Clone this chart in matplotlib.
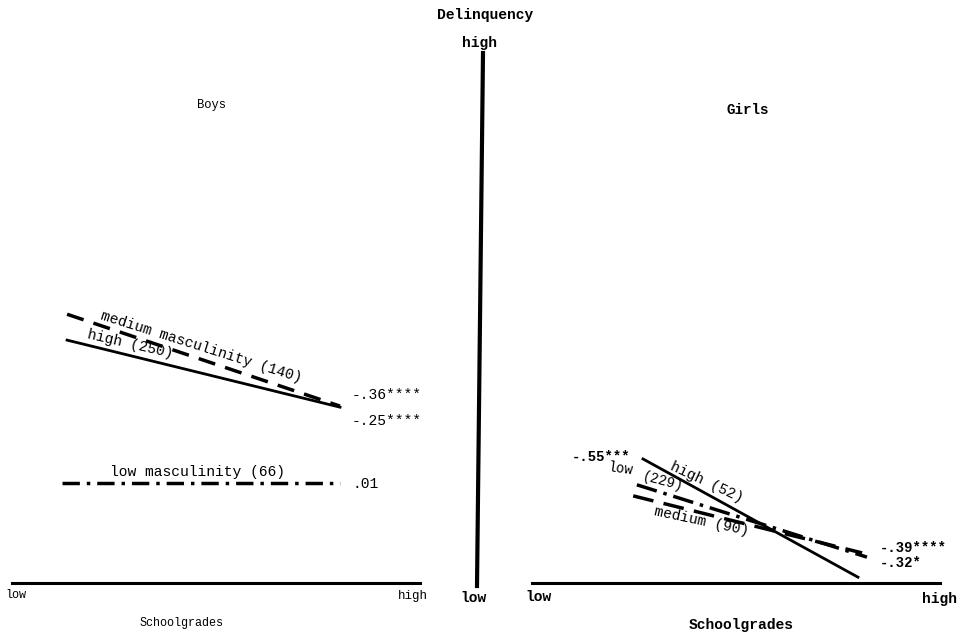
import matplotlib.pyplot as plt
from matplotlib.lines import Line2D

# schoolgrades (0 = low, 1 = high) and delinquency (0 = low, 1 = high)
boys_grades = [0.135, 0.804]
boys_medium = [0.509, 0.335]
boys_high = [0.460, 0.333]
boys_low_grades = [0.123, 0.804]
boys_low = [0.189, 0.189]

girls_high_grades = [0.272, 0.799]
girls_high = [0.235, 0.011]
girls_low_grades = [0.257, 0.821]
girls_low = [0.186, 0.049]
girls_medium_grades = [0.248, 0.809]
girls_medium = [0.165, 0.057]

boys_corr = ["-.36****", "-.25****", ".01"]
girls_corr = ["-.55***", "-.39****", "-.32*"]

W, H = 962, 635
mono = "Liberation Mono"


def fx(px):
    return px / W


def fy(py):
    return 1 - py / H


def label(px, py, s, size=10.5, rot=0, ha="center", weight="normal"):
    fig.text(fx(px), fy(py), s, fontsize=size, rotation=rot, ha=ha,
             va="center", family=mono, weight=weight,
             rotation_mode="anchor")


fig = plt.figure(figsize=(W / 100, H / 100), dpi=100)

ax_b = fig.add_axes([fx(12), fy(583), 408 / W, 528 / H])
ax_g = fig.add_axes([fx(532), fy(583), 408 / W, 528 / H])

for ax in (ax_b, ax_g):
    ax.set_xlim(0, 1)
    ax.set_ylim(0, 1)
    ax.set_xticks([])
    ax.set_yticks([])
    for side in ("left", "right", "top"):
        ax.spines[side].set_visible(False)
    ax.spines["bottom"].set_linewidth(2.2)
    ax.patch.set_alpha(0)

# Boys
ax_b.plot(boys_grades, boys_medium, color="black", lw=2.5,
          dashes=(5, 3), solid_capstyle="butt")
ax_b.plot(boys_grades, boys_high, color="black", lw=2)
ax_b.plot(boys_low_grades, boys_low, color="black", lw=2.5,
          dashes=(5, 2, 1, 2))

# Girls
ax_g.plot(girls_high_grades, girls_high, color="black", lw=2)
ax_g.plot(girls_low_grades, girls_low, color="black", lw=2.5,
          dashes=(6, 2, 1, 2))
ax_g.plot(girls_medium_grades, girls_medium, color="black", lw=2.5,
          dashes=(6, 3))

# delinquency axis
fig.add_artist(Line2D([fx(483), fx(477)], [fy(53), fy(586)],
                      transform=fig.transFigure, color="black", lw=3))

# titles and axis labels
label(485, 15, "Delinquency", size=10.5, weight="bold")
label(480, 43, "high", size=10.5, weight="bold")
label(474, 598, "low", size=10.5, weight="bold")
label(212, 105, "Boys", size=8.7)
label(748, 110, "Girls", size=10.3, weight="bold")
label(182, 623, "Schoolgrades", size=8.5)
label(741, 625, "Schoolgrades", size=10.5, weight="bold")
label(5, 595, "low", size=8.5, ha="left")
label(428, 596, "high", size=9, ha="right")
label(525, 597, "low", size=10.5, ha="left", weight="bold")
label(957, 599, "high", size=10.5, ha="right", weight="bold")

# Boys line labels
label(201, 347, "medium masculinity (140)", size=10.5, rot=-17.5)
label(130, 344, "high (250)", size=10.5, rot=-13)
label(198, 472, "low masculinity (66)", size=10.5)
label(352, 395, boys_corr[0], size=10.5, ha="left")
label(352, 421, boys_corr[1], size=10.5, ha="left")
label(353, 484, boys_corr[2], size=10.5, ha="left")

# Girls line labels
label(572, 457, girls_corr[0], size=10, ha="left", weight="bold")
label(620, 469, "low", size=10, rot=-8)
label(663, 482, "(229)", size=10, rot=-15)
label(707, 482, "high (52)", size=10.5, rot=-25)
label(702, 521, "medium (90)", size=10.5, rot=-12)
label(880, 548, girls_corr[1], size=10, ha="left", weight="bold")
label(880, 563, girls_corr[2], size=10, ha="left", weight="bold")

fig.savefig("out.png", dpi=100)
